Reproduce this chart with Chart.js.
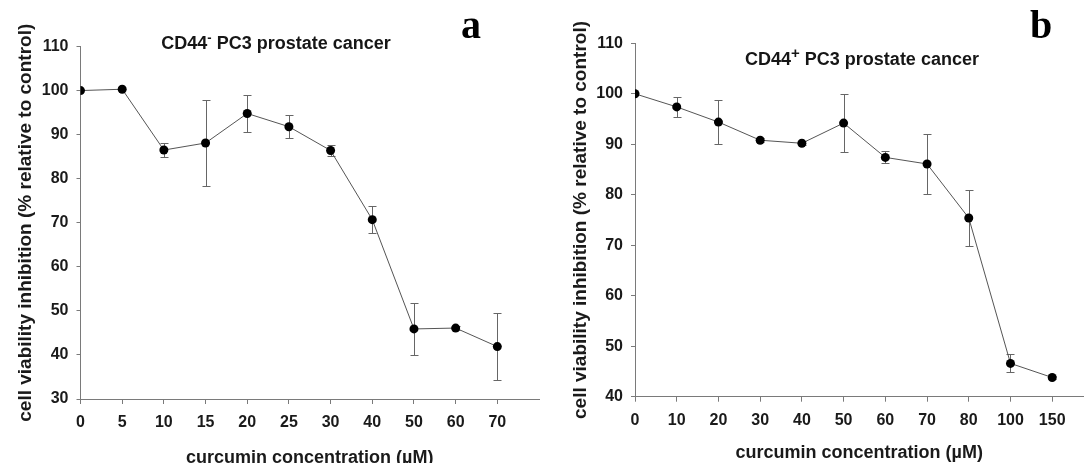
<!DOCTYPE html>
<html>
<head>
<meta charset="utf-8">
<title>Curcumin dose response in PC3 cells</title>
<script src="https://cdn.jsdelivr.net/npm/chart.js@4.4.0/dist/chart.umd.min.js"></script>
<style>
  html, body { margin: 0; padding: 0; background: #fff; }
  .panel { position: absolute; top: 0; width: 544px; height: 463px; }
  #panel-a { left: 0; }
  #panel-b { left: 544px; }
</style>
</head>
<body>
<div class="panel" id="panel-a"><canvas id="chart-a" width="544" height="463"></canvas></div>
<div class="panel" id="panel-b"><canvas id="chart-b" width="544" height="463"></canvas></div>
<script>
// panel a - CD44- cells
const dosesA = ['0', '5', '10', '15', '20', '25', '30', '40', '50', '60', '70'];
const meanA = [100, 100.3, 86.5, 88.1, 94.8, 91.8, 86.4, 70.7, 45.9, 46.1, 41.9];
const errA = [0, 0, 1.5, 9.7, 4.1, 2.6, 1.2, 3.0, 6.0, 0.4, 7.6];

// panel b - CD44+ cells
const dosesB = ['0', '10', '20', '30', '40', '50', '60', '70', '80', '100', '150'];
const meanB = [100, 97.4, 94.4, 90.8, 90.2, 94.2, 87.4, 86.1, 75.4, 46.6, 43.8];
const errB = [0, 1.9, 4.4, 0.4, 0.4, 5.7, 1.2, 6.0, 5.5, 1.8, 0.3];

const yLabel = 'cell viability inhibition (% relative to control)';
const xLabel = 'curcumin concentration (\u00b5M)';

const SANS = '"Liberation Sans", Arial, sans-serif';
const AXIS_GRAY = '#7a7a7a';

// error bars drawn under the markers
const errorBars = {
  id: 'errorBars',
  beforeDatasetsDraw(chart) {
    const { ctx, scales: { x, y } } = chart;
    const ds = chart.data.datasets[0];
    const cap = 4;
    ctx.save();
    ctx.strokeStyle = '#666';
    ctx.lineWidth = 1;
    ds.data.forEach((p, i) => {
      const e = ds.errors[i];
      if (!e) return;
      const px = Math.round(x.getPixelForValue(p.x)) + 0.5;
      const top = Math.round(y.getPixelForValue(p.y + e)) + 0.5;
      const bot = Math.round(y.getPixelForValue(p.y - e)) + 0.5;
      ctx.beginPath();
      ctx.moveTo(px, top); ctx.lineTo(px, bot);
      ctx.moveTo(px - cap, top); ctx.lineTo(px + cap, top);
      ctx.moveTo(px - cap, bot); ctx.lineTo(px + cap, bot);
      ctx.stroke();
    });
    ctx.restore();
  }
};

// heading with superscript + panel letter
const panelTitle = {
  id: 'panelTitle',
  afterDraw(chart, args, opts) {
    const ctx = chart.ctx;
    ctx.save();
    ctx.fillStyle = '#161616';
    ctx.textBaseline = 'alphabetic';
    ctx.textAlign = 'left';
    const mainFont = 'bold 18px ' + SANS;
    const supFont = 'bold ' + opts.supSize + 'px ' + SANS;
    ctx.font = mainFont;
    const w1 = ctx.measureText(opts.pre).width;
    const w3 = ctx.measureText(opts.post).width;
    ctx.font = supFont;
    const w2 = ctx.measureText(opts.sup).width;
    let x = opts.cx - (w1 + w2 + w3) / 2;
    ctx.font = mainFont;
    ctx.fillText(opts.pre, x, opts.baseline);
    x += w1;
    ctx.font = supFont;
    ctx.fillText(opts.sup, x, opts.baseline - opts.supRise);
    x += w2;
    ctx.font = mainFont;
    ctx.fillText(opts.post, x, opts.baseline);

    ctx.font = 'bold 40px "Liberation Serif", "Times New Roman", serif';
    ctx.textAlign = 'center';
    ctx.fillStyle = '#000';
    ctx.fillText(opts.letter, opts.lx, opts.ly);
    ctx.restore();
  }
};

function makeChart(id, doses, means, errs, cfg) {
  const points = means.map((v, i) => ({ x: i, y: v }));
  return new Chart(document.getElementById(id), {
    type: 'line',
    data: {
      datasets: [{
        data: points,
        errors: errs,
        borderColor: '#555',
        borderWidth: 1,
        tension: 0,
        pointRadius: 4.5,
        pointBackgroundColor: '#000',
        pointBorderColor: '#000',
        pointBorderWidth: 0
      }]
    },
    options: {
      responsive: false,
      animation: false,
      events: [],
      layout: { padding: { top: cfg.top, right: cfg.right, left: 0, bottom: 0 } },
      plugins: {
        legend: { display: false },
        tooltip: { enabled: false },
        panelTitle: cfg.title
      },
      scales: {
        x: {
          type: 'linear',
          min: 0,
          max: cfg.xMax,
          afterFit: (s) => {
            s.height = cfg.xHeight;
            s.paddingLeft = 0;
            s.paddingRight = 0;
          },
          grid: {
            drawOnChartArea: false,
            tickLength: 5,
            tickColor: (c) => (c.tick && c.tick.value < doses.length ? AXIS_GRAY : 'rgba(0,0,0,0)')
          },
          border: { color: AXIS_GRAY, width: 1 },
          ticks: {
            stepSize: 1,
            includeBounds: false,
            autoSkip: false,
            maxRotation: 0,
            padding: 9,
            color: '#1a1a1a',
            font: { family: SANS, size: 16, weight: 'bold' },
            callback: (v) => doses[v] ?? ''
          },
          title: {
            display: true,
            text: xLabel,
            color: '#1a1a1a',
            font: { family: SANS, size: 18, weight: 'bold' },
            padding: { top: 0, bottom: cfg.xTitlePad }
          }
        },
        y: {
          min: cfg.yMin,
          max: 110,
          afterFit: (s) => { s.width = cfg.yWidth; },
          grid: { drawOnChartArea: false, tickLength: 4, tickColor: AXIS_GRAY },
          border: { color: AXIS_GRAY, width: 1 },
          ticks: {
            stepSize: 10,
            padding: 8,
            color: '#1a1a1a',
            font: { family: SANS, size: 16, weight: 'bold' }
          },
          title: {
            display: true,
            text: yLabel,
            color: '#1a1a1a',
            font: { family: SANS, size: 19, weight: 'bold' },
            padding: { top: cfg.yTitlePad, bottom: 0 }
          }
        }
      }
    },
    plugins: [errorBars, panelTitle]
  });
}

makeChart('chart-a', dosesA, meanA, errA, {
  top: 46.5, right: 5, xMax: 11, xHeight: 64, yWidth: 80.5, yMin: 30,
  xTitlePad: -6, yTitlePad: 14.5,
  title: { pre: 'CD44', sup: '-', post: ' PC3 prostate cancer', supSize: 13, supRise: 7,
           cx: 276, baseline: 49, letter: 'a', lx: 471, ly: 38 }
});

makeChart('chart-b', dosesB, meanB, errB, {
  top: 43.3, right: 3, xMax: 10.75, xHeight: 66.3, yWidth: 91, yMin: 40,
  xTitlePad: -1, yTitlePad: 25,
  title: { pre: 'CD44', sup: '+', post: ' PC3 prostate cancer', supSize: 15, supRise: 7,
           cx: 318, baseline: 65, letter: 'b', lx: 497, ly: 38 }
});
</script>
</body>
</html>
